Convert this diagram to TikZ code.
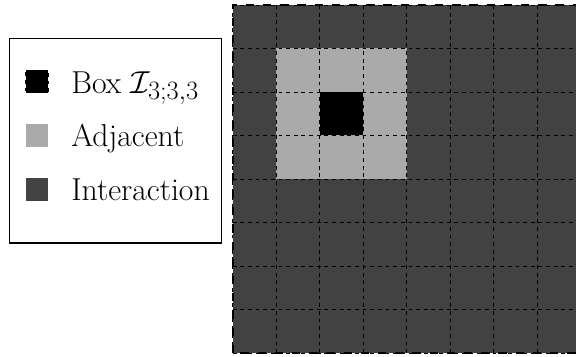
\documentclass[tikz,border=0pt]{standalone}
\usepackage{amsmath,amssymb}
\usetikzlibrary{positioning,calc}
\definecolor{InterGray}{RGB}{66,66,66}
\definecolor{AdjGray}{RGB}{170,170,170}
\tikzset{
  cellgrid/.style={draw=black,dashed,line width=0.7pt},
  outerframe/.style={draw=black,line width=1.7pt,dash pattern=on 6.5pt off 7pt},
  legframe/.style={draw=black,line width=0.8pt},
  key/.style={rectangle,inner sep=0pt,minimum size=0.615cm},
  keytext/.style={inner sep=0pt,anchor=base west,font=\Huge},
}
\begin{document}
\begin{tikzpicture}[x=1.2cm,y=1.2cm]
  \useasboundingbox (-5.349,-0.069) rectangle (7.892,8.115);

  % interaction region, adjacent boxes and the box itself
  \fill[InterGray] (0,0) rectangle (8,8);
  \fill[AdjGray] (1,4) rectangle (4,7);
  \fill[black] (2,5) rectangle (3,6);
  \draw[cellgrid,step=1] (0,0) grid (8,8);
  \draw[outerframe] (0,0) rectangle (8,8);

  % legend
  \draw[legframe] (-5.12,2.529) rectangle (-0.253,7.234);
  \node[key,fill=black,draw=black,dashed,line width=0.8pt] (boxkey) at (-4.495,6.24) {};
  \node[key,fill=AdjGray] (adjkey) at (-4.495,4.999) {};
  \node[key,fill=InterGray] (interkey) at (-4.495,3.757) {};

  \node[keytext] (boxtext) at ($(boxkey.south)+(0.78,0)$) {Box $\mathcal{I}_{3;3,3}$};
  \node[keytext] (adjtext) at ($(adjkey.south)+(0.78,0)$) {Adjacent};
  \node[keytext] (intertext) at ($(interkey.south)+(0.78,0)$) {Interaction};
\end{tikzpicture}
\end{document}
